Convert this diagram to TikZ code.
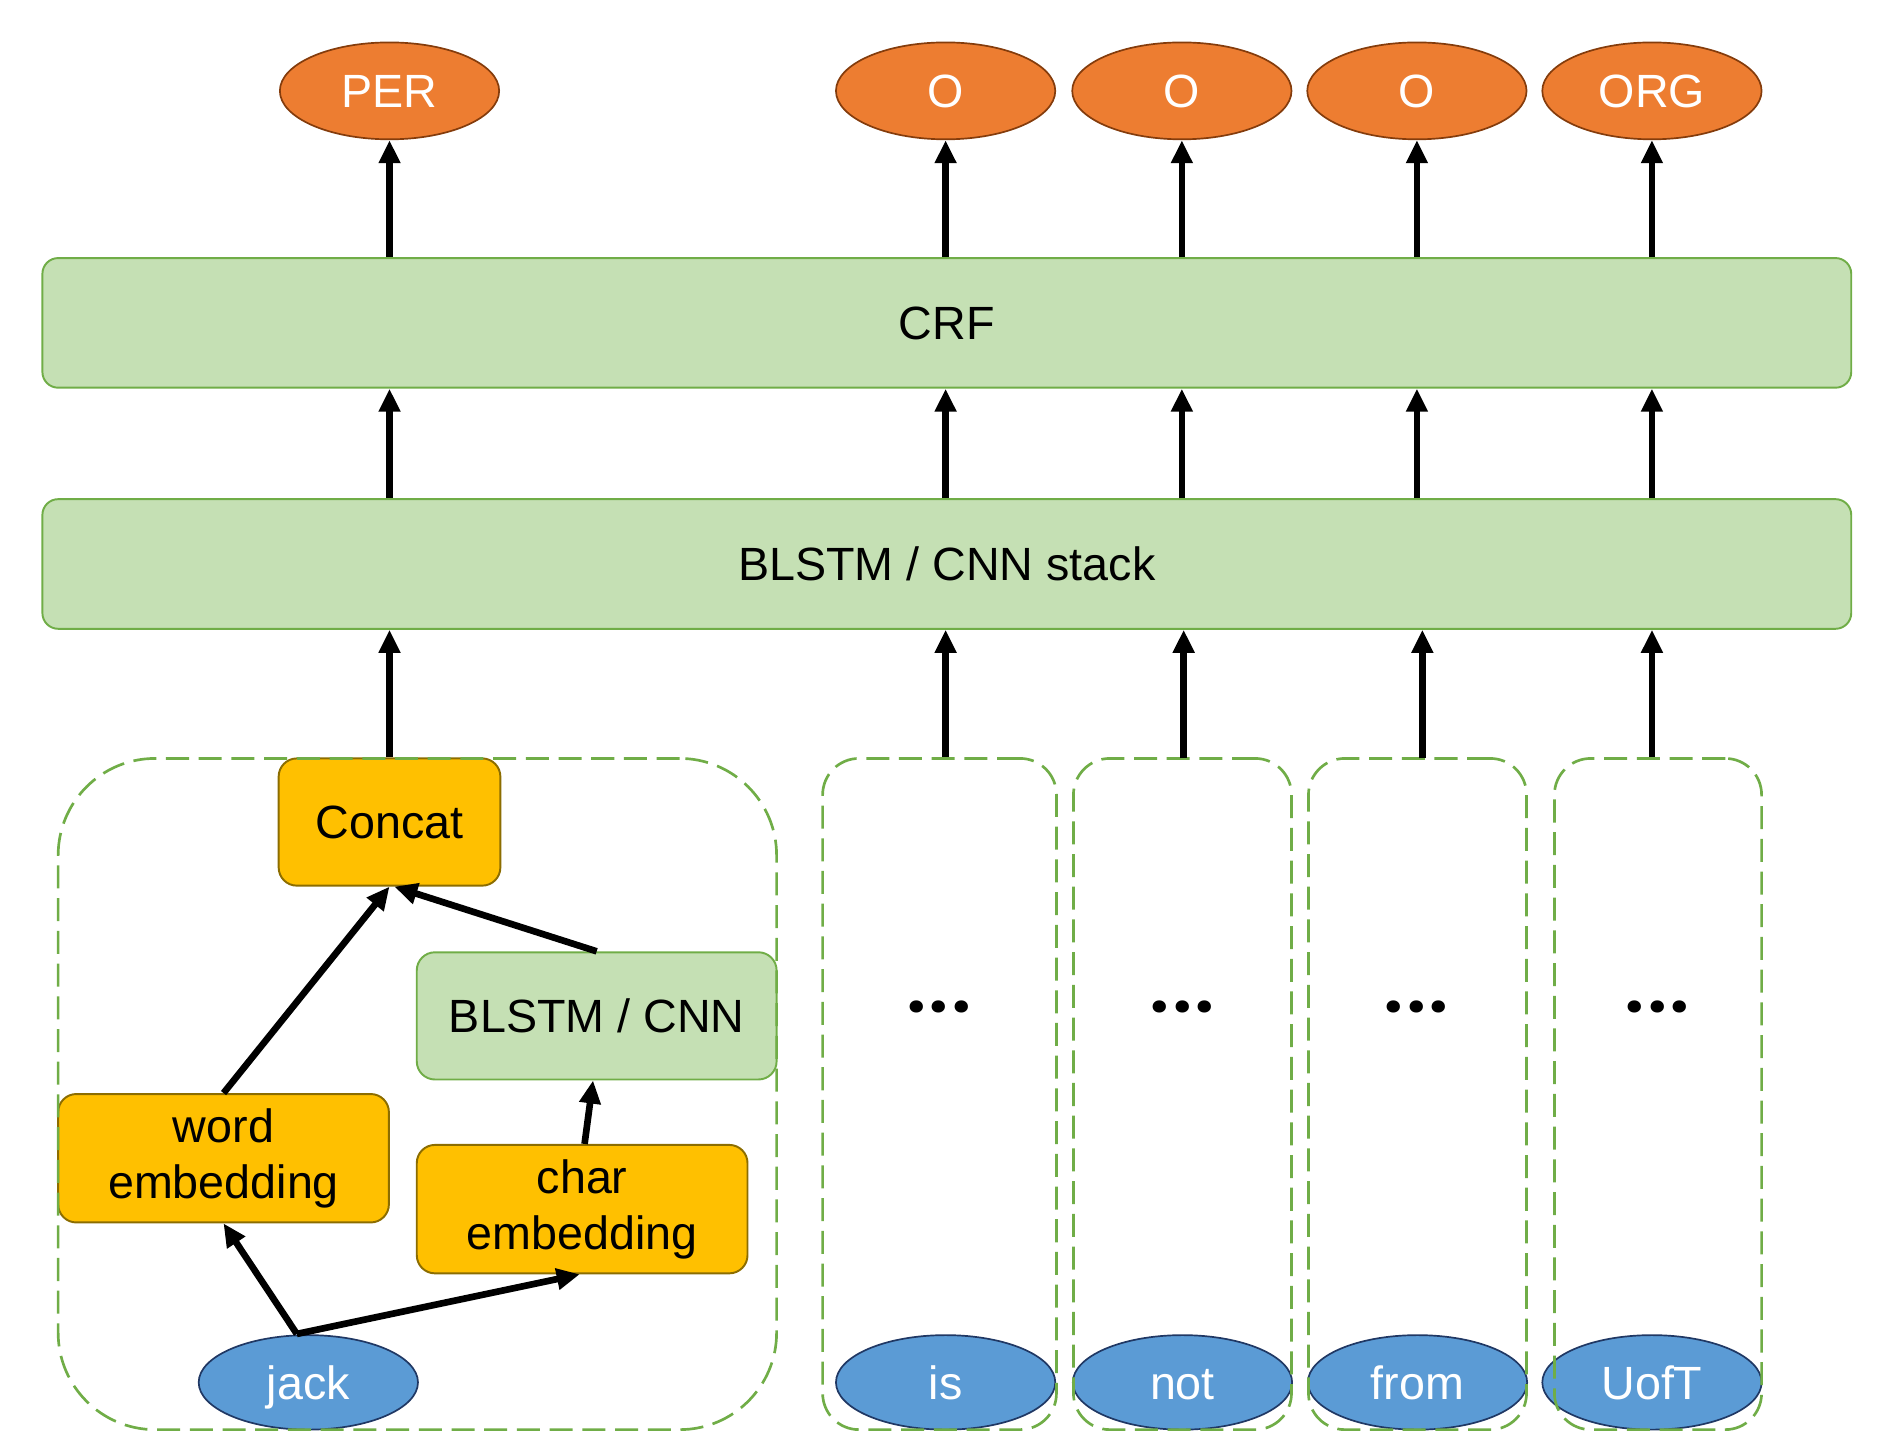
\documentclass[tikz,border=0pt]{standalone}
\usepackage{fontspec}
\setmainfont{Liberation Sans}
\newfontfamily\dotfont{Poppins}
\usetikzlibrary{arrows.meta,shapes.geometric}
\definecolor{gfill}{HTML}{C5E0B4}
\definecolor{gline}{HTML}{70AD47}
\definecolor{ofill}{HTML}{ED7D31}
\definecolor{oline}{HTML}{843C0C}
\definecolor{yfill}{HTML}{FFC000}
\definecolor{yline}{HTML}{8C6D00}
\definecolor{bfill}{HTML}{5B9BD5}
\definecolor{bline}{HTML}{203864}
\newcommand\mydots{.\hspace{3.5pt}.\hspace{3.5pt}.}
\begin{document}
\begin{tikzpicture}[x=1pt,y=-1pt,
  txt/.style={font=\fontsize{38.5}{46}\selectfont, align=center, inner sep=0pt},
  one/.style={text height=27.6pt, text depth=0pt},
  greenbox/.style={txt, draw=gline, fill=gfill, line width=1.6pt, rounded corners=13pt},
  yellowbox/.style={txt, draw=yline, fill=yfill, line width=1.6pt, rounded corners=15pt},
  outell/.style={txt, one, ellipse, draw=oline, fill=ofill, text=white, line width=1.4pt, minimum width=181pt, minimum height=80pt},
  inell/.style={txt, one, ellipse, draw=bline, fill=bfill, text=white, line width=1.4pt, minimum width=181pt, minimum height=78pt},
  grp/.style={draw=gline, line width=2.2pt, dash pattern=on 19pt off 8pt, inner sep=0pt},
  arr/.style={line width=5.5pt, -{Triangle[length=19pt,width=17pt]}},
  dots/.style={font=\dotfont\fontsize{54}{60}\selectfont\bfseries, inner sep=0pt}
]
\useasboundingbox (0,0) rectangle (1560,1200);

% output labels
\node[outell] (per) at (321.5,75) {PER};
\node[outell] (o1)  at (780.5,75) {O};
\node[outell] (o2)  at (975.5,75) {O};
\node[outell] (o3)  at (1169.5,75) {O};
\node[outell] (org) at (1363.5,75) {ORG};

% layers
\node[greenbox, one, minimum width=1493pt, minimum height=107pt] (crf) at (781.5,266.5) {CRF};
\node[greenbox, one, minimum width=1493pt, minimum height=107pt] (stack) at (781.5,465.5) {BLSTM / CNN stack};

% left word block
\node[yellowbox, one, minimum width=183pt, minimum height=105pt] (concat) at (321.5,678.5) {Concat};
\node[greenbox, one, minimum width=297pt, minimum height=105pt, rounded corners=15pt] (blstm) at (492.5,838.5) {BLSTM / CNN};
\node[yellowbox, minimum width=273pt, minimum height=106pt] (word) at (184.5,956) {word\\embedding};
\node[yellowbox, minimum width=273pt, minimum height=106pt] (char) at (480.5,998) {char\\embedding};

% input tokens
\node[inell] (jack) at (254.5,1141) {jack};
\node[inell] (is)   at (780.5,1141) {is};
\node[inell] (not)  at (976,1141) {not};
\node[inell] (from) at (1170,1141) {from};
\node[inell] (uoft) at (1363.5,1141) {UofT};

% dots
\node[dots] (d1) at (775,831) {\mydots};
\node[dots] (d2) at (976,831) {\mydots};
\node[dots] (d3) at (1169,831) {\mydots};
\node[dots] (d4) at (1368,831) {\mydots};

% dashed groups
\node[grp, rounded corners=80pt, minimum width=593pt, minimum height=554pt] (g0) at (344.5,903) {};
\node[grp, rounded corners=30pt, minimum width=193pt, minimum height=554pt] (c1) at (775.5,903) {};
\node[grp, rounded corners=30pt, minimum width=180pt, minimum height=554pt] (c2) at (976,903) {};
\node[grp, rounded corners=30pt, minimum width=180pt, minimum height=554pt] (c3) at (1170,903) {};
\node[grp, rounded corners=30pt, minimum width=171pt, minimum height=554pt] (c4) at (1368.5,903) {};

% vertical arrows
\foreach \n in {per,o1,o2,o3,org} {
  \draw[arr] (crf.north -| \n) -- (\n.south);
  \draw[arr] (stack.north -| \n) -- (crf.south -| \n);
}
\draw[arr] (concat.north) -- (stack.south -| concat);
\draw[arr] (c1.north -| is) -- (stack.south -| is);
\coordinate (a2) at (977,626);
\coordinate (a3) at (1174,626);
\draw[arr] (a2) -- (stack.south -| a2);
\draw[arr] (a3) -- (stack.south -| a3);
\draw[arr] (c4.north -| uoft) -- (stack.south -| uoft);

% internal arrows
\coordinate (jt) at (245,1101);
\draw[arr] (jt) -- (word.south);
\draw[arr] (jt) -- ([xshift=-2pt]char.south);
\draw[arr] ([xshift=2pt]char.north) -- ([xshift=-3pt]blstm.south);
\draw[arr] (word.north) -- (concat.south);
\draw[arr] (blstm.north) -- ([xshift=4pt]concat.south);
\end{tikzpicture}
\end{document}
